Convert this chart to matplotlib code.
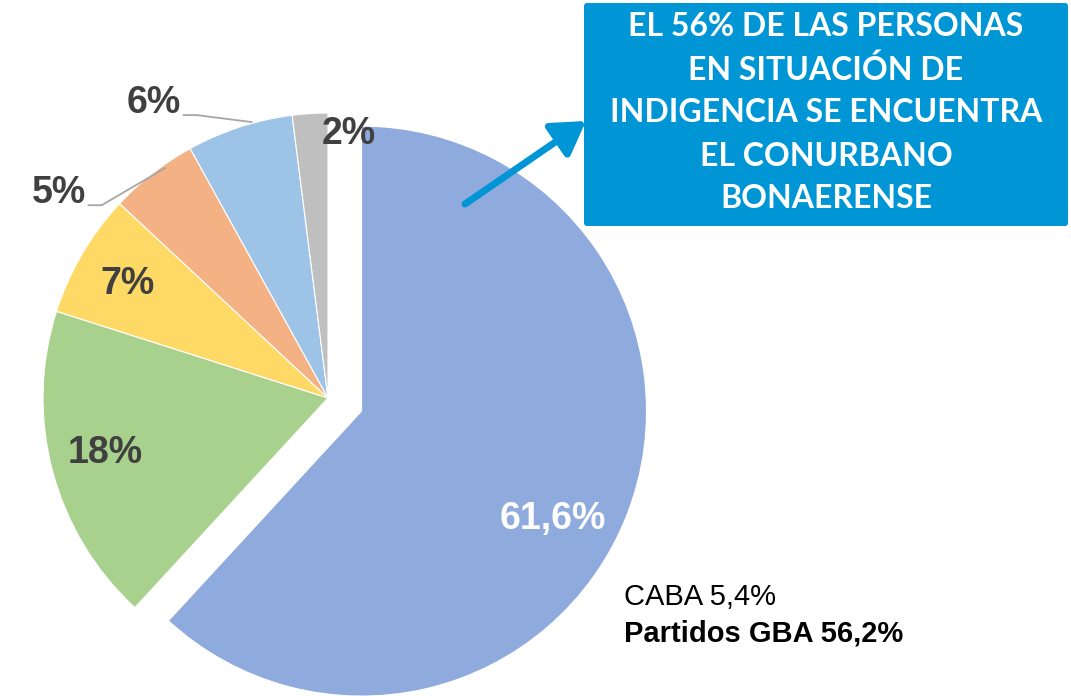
import numpy as np
import matplotlib.pyplot as plt
from matplotlib.patches import FancyBboxPatch

# datos del grafico
valores = [61.6, 18, 7, 5, 6, 2]
etiquetas = ['61,6%', '18%', '7%', '5%', '6%', '2%']
colores = ['#8faadc', '#a9d18e', '#ffd966', '#f4b183', '#9dc3e6', '#bfbfbf']
color_texto = ['white', '#404040', '#404040', '#404040', '#404040', '#404040']
separar = [36, 0, 0, 0, 0, 0]  # en pixeles

# ubicacion de las etiquetas (distancia relativa y giro respecto al centro de la porcion)
lab_dist = [0.77, 0.80, 0.82, 1.20, 1.22, 0.95]
lab_giro = [-8, -2.5, -0.5, 14.0, 12.0, -8.0]
con_linea = [False, False, False, True, True, False]

titulo = ['EL 56% DE LAS PERSONAS', 'EN SITUACIÓN DE', 'INDIGENCIA SE ENCUENTRA',
          'EL CONURBANO', 'BONAERENSE']
nota1 = 'CABA 5,4%'
nota2 = 'Partidos GBA 56,2%'

azul = '#0096d6'
W, H = 1071, 696

fig = plt.figure(figsize=(W / 100, H / 100), dpi=100)
ax = fig.add_axes([0, 0, 1, 1])

cx, cy, R = 328, H - 398, 285
wedges, _ = ax.pie(valores, colors=colores, startangle=90, counterclock=False,
                   explode=separar, center=(cx, cy), radius=R,
                   wedgeprops=dict(edgecolor='white', linewidth=0.8))
for w in wedges:
    w.set_clip_on(False)

ax.set_xlim(0, W)
ax.set_ylim(0, H)
ax.set_aspect('auto')
ax.axis('off')

for i, w in enumerate(wedges):
    t1, t2 = w.theta1, w.theta2
    mid = (t1 + t2) / 2
    wx, wy = w.center
    ang = np.deg2rad(mid + lab_giro[i])
    tx = wx + lab_dist[i] * R * np.cos(ang)
    ty = wy + lab_dist[i] * R * np.sin(ang)
    if i > 0:
        ty -= 6
    ax.text(tx, ty, etiquetas[i], ha='center', va='center', fontsize=27,
            fontweight='bold', color=color_texto[i], family='Liberation Sans')
    if con_linea[i]:
        ex = wx + R * np.cos(np.deg2rad(mid)) + 12
        ey = wy + R * np.sin(np.deg2rad(mid)) + 5
        x0 = tx + 30
        y0 = ty - 12
        ax.plot([x0, x0 + 13, ex], [y0, y0, ey], color='#a6a6a6', lw=1.3)

# cuadro de texto
bx0, by0, bw, bh = 584, H - 226, 484, 223
caja = FancyBboxPatch((bx0, by0), bw, bh, boxstyle='round,pad=0,rounding_size=3',
                      facecolor=azul, edgecolor='none')
ax.add_patch(caja)
for k, linea in enumerate(titulo):
    ax.text(bx0 + bw / 2, H - 27 - k * 43, linea, ha='center', va='center',
            fontsize=23, fontweight='bold', color='white', family='Lato')

# flecha
ax.annotate('', xy=(586, H - 121), xytext=(465, H - 204),
            arrowprops=dict(arrowstyle='-|>,head_length=0.9,head_width=0.55',
                            lw=5, color=azul, shrinkA=0, shrinkB=0, mutation_scale=22))

ax.text(624, H - 597, nota1, ha='left', va='center', fontsize=21,
        color='black', family='Liberation Sans')
ax.text(624, H - 633, nota2, ha='left', va='center', fontsize=21,
        fontweight='bold', color='black', family='Liberation Sans')

fig.savefig('out.png', dpi=100)
